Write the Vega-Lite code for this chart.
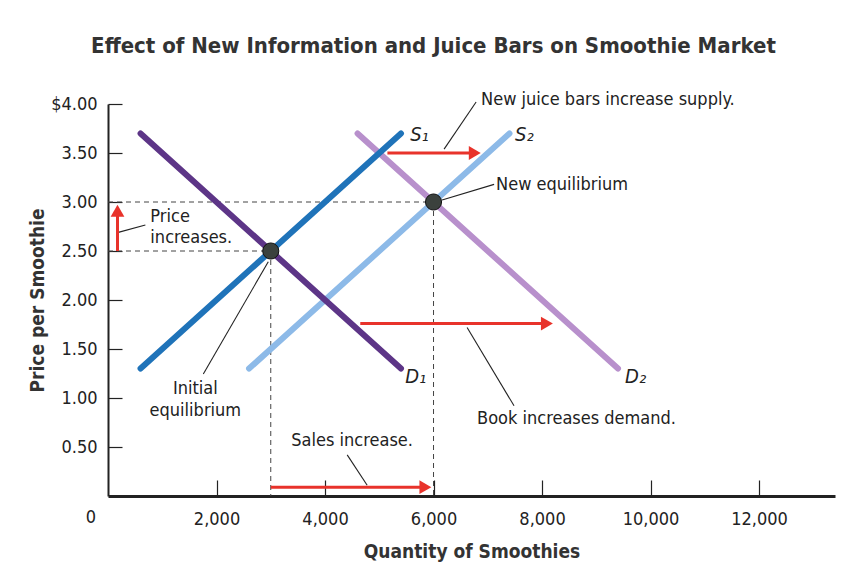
{
  "$schema": "https://vega.github.io/schema/vega-lite/v6.json",
  "autosize": "none",
  "width": 727,
  "height": 392,
  "padding": {"left": 108, "top": 104, "right": 10, "bottom": 77},
  "background": "white",
  "title": {
    "text": "Effect of New Information and Juice Bars on Smoothie Market",
    "font": "Liberation Sans Narrow, DejaVu Sans Condensed, sans-serif",
    "fontSize": 22,
    "fontWeight": "bold",
    "color": "#333333",
    "anchor": "middle",
    "dx": -38,
    "offset": 33
  },
  "config": {
    "view": {"stroke": null},
    "font": "Liberation Sans Narrow, DejaVu Sans Condensed, sans-serif",
    "text": {"font": "Liberation Sans Narrow, DejaVu Sans Condensed, sans-serif"}
  },
  "datasets": {
    "curves": [
      {"curve": "D2", "q": 4600, "p": 3.70},
      {"curve": "D2", "q": 9400, "p": 1.30},
      {"curve": "S2", "q": 2600, "p": 1.30},
      {"curve": "S2", "q": 7400, "p": 3.70},
      {"curve": "D1", "q": 600, "p": 3.70},
      {"curve": "D1", "q": 5400, "p": 1.30},
      {"curve": "S1", "q": 600, "p": 1.30},
      {"curve": "S1", "q": 5400, "p": 3.70}
    ],
    "dashes": [
      {"q": 0, "p": 3.0, "q2": 6000, "p2": 3.0},
      {"q": 0, "p": 2.5, "q2": 3000, "p2": 2.5},
      {"q": 3000, "p": 2.5, "q2": 3000, "p2": 0},
      {"q": 6000, "p": 3.0, "q2": 6000, "p2": 0}
    ],
    "shafts": [
      {"q": 5150, "p": 3.50, "q2": 6700, "p2": 3.50},
      {"q": 4650, "p": 1.76, "q2": 8030, "p2": 1.76},
      {"q": 3000, "p": 0.09, "q2": 5800, "p2": 0.09},
      {"q": 175, "p": 2.50, "q2": 175, "p2": 2.86}
    ],
    "heads": [
      {"q": 6760, "p": 3.50, "shape": "triangle-right"},
      {"q": 8090, "p": 1.76, "shape": "triangle-right"},
      {"q": 5850, "p": 0.09, "shape": "triangle-right"},
      {"q": 175, "p": 2.91, "shape": "triangle-up"}
    ],
    "leaders": [
      {"q": 6785, "p": 4.02, "q2": 6195, "p2": 3.54},
      {"q": 7116, "p": 3.18, "q2": 6158, "p2": 3.02},
      {"q": 689, "p": 2.765, "q2": 190, "p2": 2.69},
      {"q": 2954, "p": 2.39, "q2": 1757, "p2": 1.245},
      {"q": 6619, "p": 1.72, "q2": 7484, "p2": 0.92},
      {"q": 4409, "p": 0.42, "q2": 4777, "p2": 0.11}
    ],
    "equilibria": [
      {"q": 3000, "p": 2.5},
      {"q": 6000, "p": 3.0}
    ],
    "leftLabels": [
      {"q": 6877, "p": 4.04, "label": ["New juice bars increase supply."]},
      {"q": 7153, "p": 3.17, "label": ["New equilibrium"]},
      {"q": 781, "p": 2.85, "label": ["Price", "increases."]},
      {"q": 6803, "p": 0.79, "label": ["Book increases demand."]},
      {"q": 3379, "p": 0.56, "label": ["Sales increase."]}
    ],
    "centerLabels": [
      {"q": 1610, "p": 1.09, "label": ["Initial", "equilibrium"]}
    ],
    "curveLabels": [
      {"q": 5569, "p": 3.68, "label": "S₁"},
      {"q": 7503, "p": 3.68, "label": "S₂"},
      {"q": 5477, "p": 1.21, "label": "D₁"},
      {"q": 9530, "p": 1.21, "label": "D₂"}
    ],
    "origin": [
      {"q": 0, "p": 0, "label": "0"}
    ]
  },
  "encoding": {
    "x": {
      "field": "q",
      "type": "quantitative",
      "scale": {"domain": [0, 13400], "nice": false, "zero": false},
      "axis": {
        "title": "Quantity of Smoothies",
        "titleFont": "Liberation Sans Narrow, DejaVu Sans Condensed, sans-serif",
        "titleFontSize": 19,
        "titleFontWeight": "bold",
        "titleColor": "#333333",
        "titlePadding": 14,
        "values": [2000, 4000, 6000, 8000, 10000, 12000],
        "labelExpr": "format(datum.value, ',.0f')",
        "labelFont": "Liberation Sans Narrow, DejaVu Sans Condensed, sans-serif",
        "labelFontSize": 18,
        "labelColor": "#222222",
        "labelPadding": 30,
        "tickSize": -16,
        "tickColor": "#222222",
        "tickWidth": 1.2,
        "domainColor": "#222222",
        "domainWidth": 3,
        "grid": false
      }
    },
    "y": {
      "field": "p",
      "type": "quantitative",
      "scale": {"domain": [0, 4], "nice": false},
      "axis": {
        "title": "Price per Smoothie",
        "titleFont": "Liberation Sans Narrow, DejaVu Sans Condensed, sans-serif",
        "titleFontSize": 19,
        "titleFontWeight": "bold",
        "titleColor": "#333333",
        "titlePadding": 3,
        "values": [0.5, 1, 1.5, 2, 2.5, 3, 3.5, 4],
        "labelExpr": "datum.value == 4 ? '$4.00' : format(datum.value, '.2f')",
        "labelFont": "Liberation Sans Narrow, DejaVu Sans Condensed, sans-serif",
        "labelFontSize": 18,
        "labelColor": "#222222",
        "labelPadding": 25,
        "tickSize": -14,
        "tickColor": "#222222",
        "tickWidth": 1.2,
        "domainColor": "#222222",
        "domainWidth": 2,
        "grid": false
      }
    }
  },
  "layer": [
    {
      "data": {"name": "dashes"},
      "mark": {"type": "rule", "color": "#444444", "strokeWidth": 1, "strokeDash": [5, 4]},
      "encoding": {"x2": {"field": "q2"}, "y2": {"field": "p2"}}
    },
    {
      "data": {"name": "curves"},
      "mark": {"type": "line", "strokeWidth": 6, "strokeCap": "round"},
      "encoding": {
        "color": {
          "field": "curve",
          "type": "nominal",
          "scale": {"domain": ["D2", "S2", "D1", "S1"], "range": ["#b890cc", "#8dbae8", "#5d3587", "#1f73b9"]},
          "legend": null
        }
      }
    },
    {
      "data": {"name": "leaders"},
      "mark": {"type": "rule", "color": "#222222", "strokeWidth": 1.1},
      "encoding": {"x2": {"field": "q2"}, "y2": {"field": "p2"}}
    },
    {
      "data": {"name": "shafts"},
      "mark": {"type": "rule", "color": "#e8332b", "strokeWidth": 3},
      "encoding": {"x2": {"field": "q2"}, "y2": {"field": "p2"}}
    },
    {
      "data": {"name": "heads"},
      "mark": {"type": "point", "filled": true, "color": "#e8332b", "size": 190, "opacity": 1},
      "encoding": {"shape": {"field": "shape", "type": "nominal", "scale": null}}
    },
    {
      "data": {"name": "equilibria"},
      "mark": {"type": "point", "filled": true, "shape": "circle", "size": 260, "fill": "#3b413d", "stroke": "#111111", "strokeWidth": 1, "opacity": 1}
    },
    {
      "data": {"name": "leftLabels"},
      "mark": {"type": "text", "align": "left", "baseline": "middle", "fontSize": 18, "lineHeight": 21, "color": "#222222"},
      "encoding": {"text": {"field": "label"}}
    },
    {
      "data": {"name": "centerLabels"},
      "mark": {"type": "text", "align": "center", "baseline": "middle", "fontSize": 18, "lineHeight": 22, "color": "#222222"},
      "encoding": {"text": {"field": "label"}}
    },
    {
      "data": {"name": "curveLabels"},
      "mark": {"type": "text", "align": "left", "baseline": "middle", "fontSize": 20, "fontStyle": "italic", "color": "#222222"},
      "encoding": {"text": {"field": "label"}}
    },
    {
      "data": {"name": "origin"},
      "mark": {"type": "text", "align": "center", "baseline": "middle", "fontSize": 18, "color": "#222222", "dx": -17, "dy": 22},
      "encoding": {"text": {"field": "label"}}
    }
  ]
}
